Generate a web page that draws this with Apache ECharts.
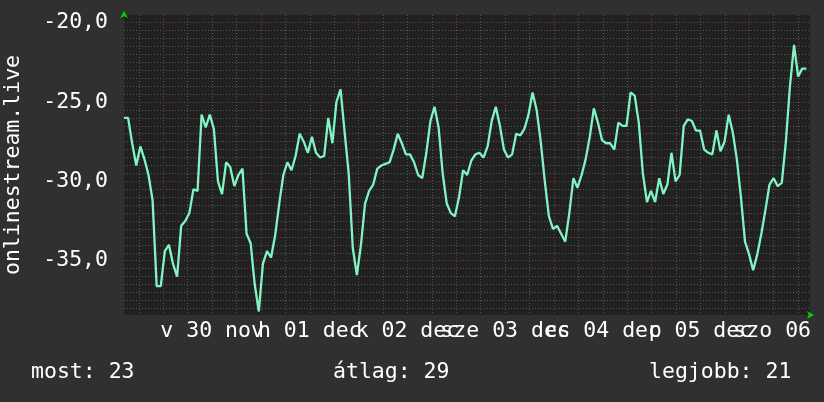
<!DOCTYPE html>
<html>
<head>
<meta charset="utf-8">
<script src="https://cdn.jsdelivr.net/npm/echarts@6/dist/echarts.min.js"></script>
<style>
  html, body { margin: 0; padding: 0; background: #303030; }
  #chart { width: 824px; height: 402px; }
</style>
</head>
<body>
<div id="chart"></div>
<script>
// time of first sample, in hours relative to the first midnight grid line
const startHour = -9.65
const stepHour = 1.004
// plot range in days (midnight = whole number)
const dayMin = -0.402
const dayMax = 6.622

// one value per hour
const values = [
  -26.0, -26.0, -27.6, -29.0, -27.8, -28.6, -29.6, -31.2, -36.6, -36.6,
  -34.4, -34.0, -35.2, -36.0, -32.8, -32.5, -32.0, -30.5, -30.6, -25.8,
  -26.6, -25.8, -26.7, -30.0, -30.8, -28.8, -29.1, -30.3, -29.6, -29.2,
  -33.3, -33.9, -36.5, -38.2, -35.2, -34.4, -34.8, -33.4, -31.4, -29.6,
  -28.8, -29.3, -28.4, -27.0, -27.5, -28.2, -27.2, -28.2, -28.5, -28.4,
  -26.0, -27.6, -25.0, -24.2, -26.9, -29.5, -34.2, -35.9, -34.0, -31.4,
  -30.6, -30.2, -29.2, -29.0, -28.9, -28.8, -28.0, -27.0, -27.6, -28.3,
  -28.3, -28.8, -29.6, -29.8, -28.2, -26.2, -25.3, -26.6, -29.5, -31.4,
  -32.0, -32.2, -31.0, -29.3, -29.6, -28.7, -28.3, -28.2, -28.5, -27.8,
  -26.2, -25.3, -26.5, -28.0, -28.5, -28.3, -27.0, -27.1, -26.7, -25.8,
  -24.4, -25.5, -27.5, -30.0, -32.2, -33.0, -32.8, -33.3, -33.8, -32.0,
  -29.8, -30.4, -29.6, -28.6, -27.2, -25.4, -26.3, -27.4, -27.6, -27.6,
  -28.0, -26.3, -26.5, -26.5, -24.4, -24.6, -26.3, -29.5, -31.3, -30.6,
  -31.3, -29.8, -30.8, -30.2, -28.2, -30.0, -29.6, -26.5, -26.1, -26.2,
  -26.8, -26.8, -28.0, -28.2, -28.3, -26.8, -28.1, -27.5, -25.8, -26.9,
  -28.6, -31.0, -33.8, -34.6, -35.6, -34.6, -33.3, -31.8, -30.2, -29.8,
  -30.3, -30.1, -27.5, -24.0, -21.4, -23.4, -22.9, -22.9
]

// day labels, each centred on noon of its day
const dayLabels = ['v 30 nov', 'h 01 dec', 'k 02 dec', 'sze 03 dec', 'cs 04 dec', 'p 05 dec', 'szo 06 dec']

const yMin = -38.42
const yMax = -19.52
const yStep = 5

const statNames = ['most', 'átlag', 'legjobb']
const statValues = [23, 29, 21]
const statLeft = [31, 333, 649]

const mono = 'DejaVu Sans Mono'
const fontSize = 21.5
const textColor = '#ffffff'
const lineColor = '#80f4c2'
const minorColor = '#575757'
const majorColor = '#7e3838'
const arrowColor = '#00d000'

const chart = echarts.init(document.getElementById('chart'))

const points = values.map((v, i) => [(startHour + i * stepHour) / 24, v])

const option = {
  animation: false,
  backgroundColor: '#303030',
  title: statNames.map((name, i) => ({
    text: name + ': ' + statValues[i],
    left: statLeft[i],
    top: 361,
    padding: 0,
    textStyle: {
      color: textColor,
      fontFamily: mono,
      fontSize: fontSize,
      fontWeight: 'normal'
    }
  })),
  grid: {
    left: 124,
    right: 14,
    top: 15,
    bottom: 87,
    containLabel: false,
    outerBoundsMode: 'none',
    show: true,
    backgroundColor: '#212121',
    borderWidth: 0
  },
  xAxis: [
    {
      type: 'value',
      min: dayMin,
      max: dayMax,
      splitNumber: 7,
      minInterval: 1,
      maxInterval: 1,
      axisLine: {
        show: true,
        onZero: false,
        symbol: ['none', 'arrow'],
        symbolSize: [6, 7],
        symbolOffset: [0, 4],
        lineStyle: { color: arrowColor, opacity: 0 }
      },
      axisTick: { show: false },
      axisLabel: { show: false },
      splitLine: {
        show: true,
        showMinLine: false,
        showMaxLine: false,
        lineStyle: { color: majorColor, type: [1, 2], width: 1 }
      },
      minorTick: { show: false, splitNumber: 4 },
      minorSplitLine: {
        show: true,
        lineStyle: { color: minorColor, type: [1, 2], width: 1 }
      }
    },
    {
      // same scale moved half a day: its whole-number ticks fall on noon
      type: 'value',
      position: 'bottom',
      min: dayMin - 0.5,
      max: dayMax - 0.5,
      splitNumber: 7,
      minInterval: 1,
      maxInterval: 1,
      axisLine: { show: false, onZero: false },
      axisTick: { show: false },
      splitLine: { show: false },
      axisLabel: {
        show: true,
        showMinLabel: false,
        showMaxLabel: false,
        hideOverlap: false,
        margin: 5,
        color: textColor,
        fontFamily: mono,
        fontSize: fontSize,
        formatter: (v) => dayLabels[Math.round(v)] || ''
      }
    }
  ],
  yAxis: {
    type: 'value',
    min: yMin,
    max: yMax,
    splitNumber: 4,
    minInterval: yStep,
    maxInterval: yStep,
    name: 'onlinestream.live',
    nameLocation: 'middle',
    nameGap: 100,
    nameTextStyle: {
      color: textColor,
      fontFamily: mono,
      fontSize: fontSize
    },
    axisLine: {
      show: true,
      onZero: false,
      symbol: ['none', 'arrow'],
      symbolSize: [6, 7],
      symbolOffset: [0, 4],
      lineStyle: { color: arrowColor, opacity: 0 }
    },
    axisTick: { show: false },
    axisLabel: {
      showMinLabel: false,
      showMaxLabel: false,
      margin: 16,
      color: textColor,
      fontFamily: mono,
      fontSize: fontSize,
      formatter: (v) => v.toFixed(1).replace('.', ',')
    },
    splitLine: {
      show: true,
      showMinLine: false,
      showMaxLine: false,
      lineStyle: { color: majorColor, type: [1, 2], width: 1 }
    },
    minorTick: { show: false, splitNumber: 10 },
    minorSplitLine: {
      show: true,
      lineStyle: { color: minorColor, type: [1, 2], width: 1 }
    }
  },
  series: [
    {
      type: 'line',
      xAxisIndex: 0,
      yAxisIndex: 0,
      data: points,
      showSymbol: false,
      symbol: 'none',
      lineStyle: { color: lineColor, width: 2.3 },
      z: 5
    }
  ]
}

chart.setOption(option)
</script>
</body>
</html>
